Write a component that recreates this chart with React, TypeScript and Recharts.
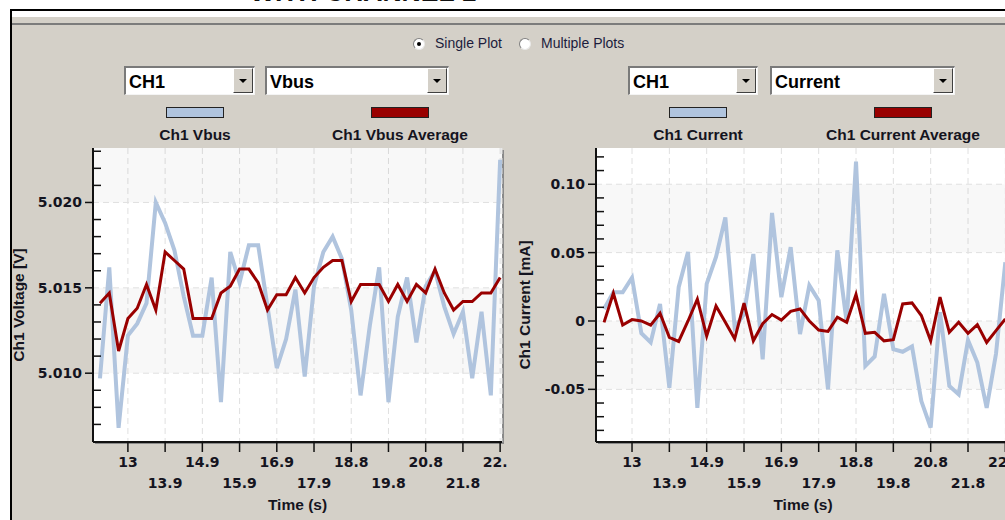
import React from "react";
import { LineChart, Line, XAxis, YAxis, CartesianGrid, ReferenceArea, ReferenceLine, Legend } from "recharts";

const UI_FONT = '"Liberation Sans", Arial, sans-serif';
const TICK_FONT = '"DejaVu Sans", Verdana, sans-serif';
const PANEL = "#d4d0c8";
const BLUE = "#b0c4de";
const RED = "#990000";
const INK = "#141420";

// one sample every ~0.24 s, a time label every 4th sample
const xTickIndex = [3, 7, 11, 15, 19, 23, 27, 31, 35, 39, 43];
const xTickLabels = ["13", "13.9", "14.9", "15.9", "16.9", "17.9", "18.8", "19.8", "20.8", "21.8", "22.7"];

const vbus = [
  5.0097, 5.0162, 5.0068, 5.0122, 5.0129, 5.0141, 5.0200, 5.0188, 5.0172, 5.0145,
  5.0122, 5.0122, 5.0156, 5.0083, 5.0171, 5.0153, 5.0175, 5.0175, 5.0139, 5.0103,
  5.0120, 5.0149, 5.0098, 5.0151, 5.0171, 5.0180, 5.0167, 5.0137, 5.0087, 5.0128,
  5.0162, 5.0083, 5.0133, 5.0156, 5.0118, 5.0151, 5.0160, 5.0139, 5.0123, 5.0136,
  5.0097, 5.0136, 5.0087, 5.0225,
];
const vbusAvg = [
  5.0141, 5.0147, 5.0113, 5.0132, 5.0138, 5.0152, 5.0137, 5.0171, 5.0166, 5.0161,
  5.0132, 5.0132, 5.0132, 5.0147, 5.0151, 5.0161, 5.0161, 5.0153, 5.0137, 5.0146,
  5.0146, 5.0156, 5.0147, 5.0156, 5.0162, 5.0166, 5.0166, 5.0142, 5.0152, 5.0152,
  5.0152, 5.0142, 5.0152, 5.0142, 5.0152, 5.0147, 5.0161, 5.0147, 5.0137, 5.0142,
  5.0142, 5.0147, 5.0147, 5.0156,
];
const current = [
  0.0088, 0.021, 0.021, 0.0316, -0.009, -0.0157, 0.0125, -0.0488, 0.0247, 0.0505,
  -0.0635, 0.0272, 0.0468, 0.0757, -0.005, 0.005, 0.049, -0.028, 0.079, 0.0174,
  0.054, -0.0096, 0.026, 0.015, -0.05, 0.0517, -0.001, 0.1166, -0.0328, -0.026,
  0.0198, -0.0206, -0.0225, -0.0186, -0.0586, -0.078, 0.0064, -0.0475, -0.0537, -0.014,
  -0.0304, -0.0635, -0.024, 0.043,
];
const currentAvg = [
  -0.001, 0.0203, -0.003, 0.001, 0.0, -0.003, 0.0056, -0.012, -0.015, 0.0,
  0.016, -0.011, 0.011, -0.001, -0.013, 0.013, -0.0145, -0.002, 0.0047, 0.0007,
  0.007, 0.0088, 0.0, -0.0066, -0.0076, 0.0027, -0.001, 0.0194, -0.009, -0.0083,
  -0.0145, -0.0137, 0.0125, 0.0132, 0.004, -0.0145, 0.0174, -0.0083, -0.001, -0.009,
  -0.0027, -0.0157, -0.007, 0.0015,
];

const voltMajor = [5.01, 5.015, 5.02];
const voltMinor = [5.007, 5.008, 5.009, 5.011, 5.012, 5.013, 5.014, 5.016, 5.017, 5.018, 5.019, 5.021, 5.022, 5.023];
const currMajor = [-0.05, 0, 0.05, 0.1];
const currMinor = [-0.08, -0.07, -0.06, -0.04, -0.03, -0.02, -0.01, 0.01, 0.02, 0.03, 0.04, 0.06, 0.07, 0.08, 0.09, 0.11, 0.12];

const vbusData = vbus.map((v, i) => ({ i, raw: v, avg: vbusAvg[i] }));
const currentData = current.map((v, i) => ({ i, raw: v, avg: currentAvg[i] }));

const Y_TICK_SIZE = 8;
const Y_TICK_MARGIN = 3;

const makeYTick = (majors: number[], fmt: (v: number) => string) => (props: any) => {
  const { x, y, payload } = props;
  const axisX = x + Y_TICK_SIZE + Y_TICK_MARGIN;
  const isMajor = majors.some((m) => Math.abs(m - payload.value) < 1e-9);
  if (isMajor) {
    return (
      <g>
        <line x1={axisX - 8} x2={axisX} y1={y} y2={y} stroke="#111" strokeWidth={1.5} />
        <text x={x} y={y + 5} textAnchor="end" fill={INK} style={{ font: `bold 14px ${TICK_FONT}` }}>
          {fmt(payload.value)}
        </text>
      </g>
    );
  }
  return <line x1={axisX} x2={axisX + 8} y1={y} y2={y} stroke="#111" strokeWidth={1.5} />;
};

const XTick = (props: any) => {
  const { x, y, payload } = props;
  const k = xTickIndex.indexOf(payload.value);
  return (
    <text x={x} y={y + (k % 2 ? 35.5 : 15)} textAnchor="middle" fill={INK} style={{ font: `bold 14px ${TICK_FONT}` }}>
      {xTickLabels[k]}
    </text>
  );
};

const makeLegend = (centers: number[]) => (props: any) => {
  const payload = props.payload || [];
  return (
    <div style={{ position: "relative", width: "100%", height: 40 }}>
      {payload.map((p: any, k: number) => (
        <div key={k} style={{ position: "absolute", left: centers[k] - 100, width: 200, top: 0, textAlign: "center" }}>
          <div style={{ width: 58, height: 11, margin: "0 auto", background: p.color, border: "1px solid #222", boxSizing: "border-box" }} />
          <div style={{ marginTop: 8.5, font: `bold 15.5px ${UI_FONT}`, lineHeight: "16px", color: INK, whiteSpace: "nowrap" }}>{p.value}</div>
        </div>
      ))}
    </div>
  );
};

type PanelProps = {
  left: number;
  width: number;
  axisWidth: number;
  marginRight: number;
  xDomain: [number, number];
  yDomain: [number, number];
  data: any[];
  rawName: string;
  avgName: string;
  majors: number[];
  minors: number[];
  fmt: (v: number) => string;
  yTitle: string;
  titleX: number;
  legendCenters: number[];
};

function Panel(p: PanelProps) {
  const edges = [p.yDomain[0], ...p.majors, p.yDomain[1]];
  const bands = edges.slice(0, -1).map((lo, k) => [lo, edges[k + 1]]).filter((_, k) => k % 2 === 1);
  const yTicks = [...p.minors, ...p.majors].sort((a, b) => a - b);
  return (
    <div style={{ position: "absolute", left: p.left, top: 0, width: p.width, height: 520, overflow: "hidden" }}>
      <LineChart width={p.width} height={520} data={p.data} margin={{ top: 148, right: p.marginRight, bottom: 18, left: 0 }}>
        <CartesianGrid horizontal={false} stroke="#e0e0e0" strokeDasharray="6 4" fill="#ffffff" />
        {bands.map(([lo, hi], k) => (
          <ReferenceArea key={k} y1={lo} y2={hi} fill="#000" fillOpacity={0.028} stroke="none" ifOverflow="hidden" />
        ))}
        {p.majors.map((v) => (
          <ReferenceLine key={v} y={v} stroke="#e0e0e0" strokeDasharray="6 4" />
        ))}
        <Line type="linear" dataKey="raw" name={p.rawName} stroke={BLUE} strokeWidth={4} dot={false} isAnimationActive={false} />
        <Line type="linear" dataKey="avg" name={p.avgName} stroke={RED} strokeWidth={3} dot={false} isAnimationActive={false} />
        <XAxis
          dataKey="i"
          type="number"
          domain={p.xDomain}
          allowDataOverflow
          ticks={xTickIndex}
          interval={0}
          height={60}
          tickSize={10}
          tickMargin={0}
          tickLine={{ stroke: "#111", strokeWidth: 1.5 }}
          axisLine={{ stroke: "#111", strokeWidth: 2 }}
          tick={XTick}
          label={{
            content: (lp: any) => {
              const vb = lp.viewBox || { x: 0, y: 0, width: 0 };
              return (
                <text x={vb.x + vb.width / 2} y={vb.y + 68} textAnchor="middle" fill={INK} style={{ font: `bold 15.5px ${UI_FONT}` }}>
                  Time (s)
                </text>
              );
            },
          }}
        />
        <XAxis xAxisId="top" orientation="top" dataKey="i" type="number" domain={p.xDomain} allowDataOverflow height={0} tick={false} tickLine={false} axisLine={{ stroke: "#333", strokeWidth: 2 }} />
        <YAxis
          type="number"
          domain={p.yDomain}
          allowDataOverflow
          ticks={yTicks}
          interval={0}
          width={p.axisWidth}
          tickSize={Y_TICK_SIZE}
          tickMargin={Y_TICK_MARGIN}
          tickLine={false}
          axisLine={{ stroke: "#111", strokeWidth: 2 }}
          tick={makeYTick(p.majors, p.fmt)}
          label={{
            content: (lp: any) => {
              const vb = lp.viewBox || { x: 0, y: 0, height: 0 };
              const cx = vb.x + p.titleX;
              const cy = vb.y + vb.height / 2 + 10;
              return (
                <text x={cx} y={cy} dy={5} textAnchor="middle" transform={`rotate(-90 ${cx} ${cy})`} fill={INK} style={{ font: `bold 15.5px ${UI_FONT}` }}>
                  {p.yTitle}
                </text>
              );
            },
          }}
        />
        <YAxis yAxisId="right" orientation="right" type="number" domain={p.yDomain} allowDataOverflow width={0} tick={false} tickLine={false} axisLine={{ stroke: "#333", strokeWidth: 2 }} />
        <Legend
          verticalAlign="middle"
          align="center"
          layout="horizontal"
          wrapperStyle={{ top: 107, left: 0, width: p.width, height: 40 }}
          content={makeLegend(p.legendCenters)}
        />
      </LineChart>
    </div>
  );
}

function Combo({ left, width, text }: { left: number; width: number; text: string }) {
  return (
    <div
      style={{
        position: "absolute",
        left,
        top: 66,
        width,
        height: 29,
        boxSizing: "border-box",
        background: "#fff",
        borderTop: "2px solid #7a7a7a",
        borderLeft: "2px solid #7a7a7a",
        borderBottom: "1px solid #f4f4f4",
        borderRight: "1px solid #f4f4f4",
      }}
    >
      <div style={{ position: "absolute", left: 3, top: 5, font: `bold 18px ${UI_FONT}`, lineHeight: "18px", color: "#000" }}>{text}</div>
      <div
        style={{
          position: "absolute",
          right: 1,
          top: 0,
          width: 20,
          height: 25,
          boxSizing: "border-box",
          background: PANEL,
          borderTop: "1px solid #fff",
          borderLeft: "1px solid #fff",
          borderBottom: "1px solid #404040",
          borderRight: "1px solid #404040",
        }}
      >
        <div
          style={{
            position: "absolute",
            left: 5,
            top: 10,
            width: 0,
            height: 0,
            borderLeft: "4px solid transparent",
            borderRight: "4px solid transparent",
            borderTop: "4px solid #000",
          }}
        />
      </div>
    </div>
  );
}

function Radio({ cx, label, checked }: { cx: number; label: string; checked: boolean }) {
  return (
    <>
      <div
        style={{
          position: "absolute",
          left: cx - 6,
          top: 38,
          width: 12,
          height: 12,
          boxSizing: "border-box",
          borderRadius: "50%",
          background: "#fff",
          borderTop: "1px solid #808080",
          borderLeft: "1px solid #808080",
          borderBottom: "1px solid #e8e8e8",
          borderRight: "1px solid #e8e8e8",
        }}
      >
        {checked && <div style={{ position: "absolute", left: 3, top: 3, width: 4, height: 4, borderRadius: "50%", background: "#000" }} />}
      </div>
      <div style={{ position: "absolute", left: cx + 16, top: 36, font: `14px ${UI_FONT}`, lineHeight: "14px", color: "#1c1c3c", whiteSpace: "nowrap" }}>
        {label}
      </div>
    </>
  );
}

export default function App() {
  return (
    <div style={{ position: "fixed", left: 0, top: 0, width: 1005, height: 520, overflow: "hidden", background: "#fff" }}>
      <div style={{ position: "absolute", left: 250, top: -21, font: `bold 26.5px ${UI_FONT}`, lineHeight: "26px", color: "#111", whiteSpace: "nowrap" }}>
        WITH CHANNEL 1
      </div>
      <div style={{ position: "absolute", left: 10, top: 9, width: 995, height: 2, background: "#000" }} />
      <div style={{ position: "absolute", left: 10, top: 9, width: 2, height: 511, background: "#000" }} />
      <div style={{ position: "absolute", left: 12, top: 17, width: 993, height: 503, background: PANEL }} />
      <div style={{ position: "absolute", left: 12, top: 23, width: 993, height: 2, background: "#7c7c7c" }} />

      <Radio cx={419} label="Single Plot" checked />
      <Radio cx={525} label="Multiple Plots" checked={false} />

      <Combo left={124} width={131} text="CH1" />
      <Combo left={265} width={184} text="Vbus" />
      <Combo left={628} width={130} text="CH1" />
      <Combo left={770} width={185} text="Current" />

      <div style={{ position: "absolute", left: 95, top: 150, width: 409, height: 294, background: "#8a8a8a" }} />
      <div style={{ position: "absolute", left: 598, top: 150, width: 420, height: 294, background: "#8a8a8a" }} />

      <Panel
        left={0}
        width={507}
        axisWidth={93}
        marginRight={5}
        xDomain={[-0.75, 43.2]}
        yDomain={[5.00597, 5.02319]}
        data={vbusData}
        rawName="Ch1 Vbus"
        avgName="Ch1 Vbus Average"
        majors={voltMajor}
        minors={voltMinor}
        fmt={(v) => v.toFixed(3)}
        yTitle="Ch1 Voltage [V]"
        titleX={19}
        legendCenters={[195, 400]}
      />
      <Panel
        left={507}
        width={510}
        axisWidth={89}
        marginRight={7}
        xDomain={[-0.86, 43.5]}
        yDomain={[-0.0885, 0.1265]}
        data={currentData}
        rawName="Ch1 Current"
        avgName="Ch1 Current Average"
        majors={currMajor}
        minors={currMinor}
        fmt={(v) => (v === 0 ? "0" : v.toFixed(2))}
        yTitle="Ch1 Current [mA]"
        titleX={18}
        legendCenters={[191, 396]}
      />
    </div>
  );
}
